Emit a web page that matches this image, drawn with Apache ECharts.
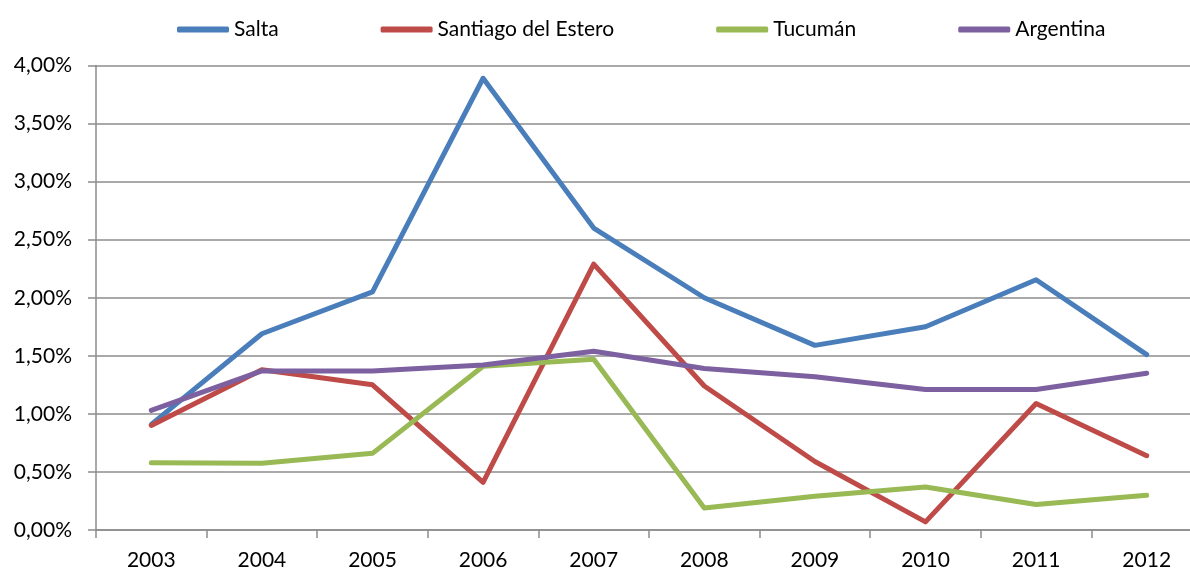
<!DOCTYPE html>
<html>
<head>
<meta charset="utf-8">
<script src="https://cdn.jsdelivr.net/npm/echarts@6/dist/echarts.min.js"></script>
<style>
  html, body { margin: 0; padding: 0; background: #fff; overflow: hidden; }
  #chart { width: 1202px; height: 572px; }
</style>
</head>
<body>
<div id="chart"></div>
<script>
// years on the x axis
var years = ['2003', '2004', '2005', '2006', '2007', '2008', '2009', '2010', '2011', '2012']
// values in percent
var salta = [0.91, 1.69, 2.05, 3.89, 2.60, 2.00, 1.59, 1.75, 2.155, 1.51]
var santiago = [0.90, 1.38, 1.25, 0.41, 2.29, 1.24, 0.59, 0.07, 1.09, 0.64]
var tucuman = [0.58, 0.575, 0.66, 1.41, 1.47, 0.19, 0.29, 0.37, 0.22, 0.30]
var argentina = [1.03, 1.37, 1.37, 1.42, 1.54, 1.39, 1.32, 1.21, 1.21, 1.35]

var font = 'Lato, "Open Sans", sans-serif'
var gray = '#8c8c8c'

function line(name, data, color) {
  return {
    name: name,
    type: 'line',
    data: data,
    symbol: 'none',
    lineStyle: { width: 5, color: color, cap: 'round', join: 'round' },
    itemStyle: { color: color }
  }
}

var myChart = echarts.init(document.getElementById('chart'))
var option = {
  animation: false,
  textStyle: { fontFamily: font },
  legend: {
    top: 14,
    left: 172,
    itemWidth: 52,
    itemHeight: 6,
    itemGap: 102,
    icon: 'roundRect',
    textStyle: { fontSize: 21, color: '#000', fontFamily: font },
    data: ['Salta', 'Santiago del Estero', 'Tucumán', 'Argentina']
  },
  grid: { left: 96, right: 0, top: 65.5, bottom: 42, containLabel: false },
  xAxis: {
    type: 'category',
    data: years,
    boundaryGap: true,
    axisLine: { lineStyle: { color: gray, width: 1.5 } },
    axisTick: { show: true, length: 8, lineStyle: { color: gray, width: 1.5 } },
    axisLabel: { color: '#000', fontSize: 21, margin: 20, fontFamily: font }
  },
  yAxis: {
    type: 'value',
    min: 0,
    max: 4,
    interval: 0.5,
    axisLine: { show: true, lineStyle: { color: gray, width: 1.5 } },
    axisTick: { show: true, length: 8, lineStyle: { color: gray, width: 1.5 } },
    splitLine: { lineStyle: { color: gray, width: 1.5 } },
    axisLabel: {
      color: '#000', fontSize: 21, margin: 24, fontFamily: font,
      formatter: function (v) { return v.toFixed(2).replace('.', ',') + '%' }
    }
  },
  series: [
    line('Salta', salta, '#4a7ebb'),
    line('Santiago del Estero', santiago, '#be4b48'),
    line('Tucumán', tucuman, '#98b954'),
    line('Argentina', argentina, '#7d60a0')
  ]
}
myChart.setOption(option, true)
window.addEventListener('resize', function () {
  myChart.resize()
})
</script>
</body>
</html>
